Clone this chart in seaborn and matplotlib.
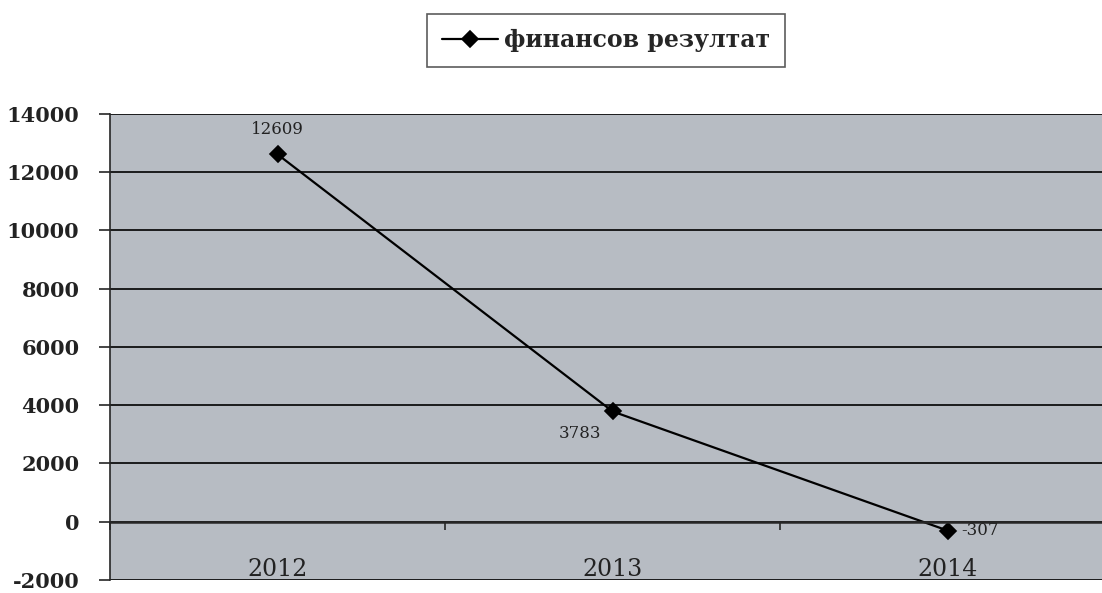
import matplotlib
matplotlib.use("Agg")
import matplotlib.pyplot as plt
import seaborn as sns
import pandas as pd

years = ["2012", "2013", "2014"]
values = [12609, 3783, -307]
series_name = "финансов резултат"
y_ticks = [-2000, 0, 2000, 4000, 6000, 8000, 10000, 12000, 14000]

sns.set_style("white")
plt.rcParams["font.family"] = ["DejaVu Serif", "DejaVu Sans"]

df = pd.DataFrame({"Year": years, "Value": values})

fig = plt.figure(figsize=(11.02, 5.93), dpi=100)
ax = fig.add_axes([0.0998, 0.022, 0.9002, 0.786])
ax.set_facecolor("#b7bcc3")

sns.pointplot(data=df, x="Year", y="Value", color="black", markers="D",
              linewidth=1.6, markersize=8, ax=ax, label=series_name)

ax.set_ylim(-2000, 14000)
ax.set_xlim(-0.5, 2.46)
ax.set_yticks(y_ticks)
ax.set_yticklabels([str(t) for t in y_ticks], fontsize=15, fontweight="bold", color="#222222")
ax.yaxis.grid(True, color="black", linewidth=1.2)
ax.set_axisbelow(True)
ax.tick_params(axis="y", length=8, width=1.2, direction="out", pad=14, left=True)

# category axis sits on zero line
ax.spines["bottom"].set_position(("data", 0))
ax.spines["bottom"].set_linewidth(1.8)
ax.spines["left"].set_linewidth(1.2)
ax.spines["top"].set_visible(False)
ax.spines["right"].set_visible(False)
ax.set_xticks([-0.5, 0.5, 1.5])
ax.set_xticklabels([])
ax.tick_params(axis="x", which="major", length=6, width=1.2, direction="out", bottom=True)
ax.set_xticks(range(len(years)), minor=True)
ax.set_xticklabels(years, minor=True, fontsize=17, color="#222222")
ax.tick_params(axis="x", which="minor", length=0, pad=26)
ax.set_xlabel("")
ax.set_ylabel("")

# data labels
offsets = [(0, 12, "center", "bottom"), (-8, -10, "right", "top"), (10, 0, "left", "center")]
for i, v in enumerate(values):
    dx, dy, ha, va = offsets[i]
    ax.annotate(str(v), (i, v), xytext=(dx, dy), textcoords="offset points",
                ha=ha, va=va, fontsize=12, color="#222222")

leg = ax.legend(loc="lower center", bbox_to_anchor=(0.5, 1.075), frameon=True,
                fancybox=False, edgecolor="#333333", handlelength=2.4,
                borderpad=0.62, handletextpad=0.25,
                prop={"family": "DejaVu Serif", "weight": "bold", "size": 17})
leg.get_frame().set_linewidth(1.2)

fig.savefig("out.png", dpi=100)
